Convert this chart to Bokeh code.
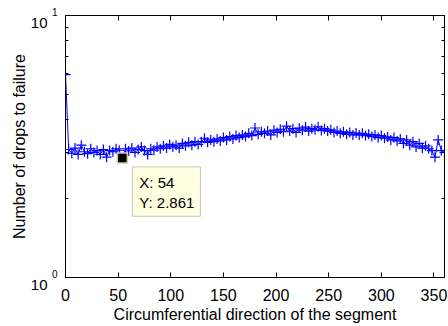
from bokeh.plotting import figure
from bokeh.models import (LogAxis, LinearAxis, FixedTicker, Range1d, Label,
                          ColumnDataSource)
from bokeh.embed import file_html
from bokeh.resources import INLINE

# ---- data ----
angle = list(range(0, 361, 3))
drops = [5.95, 3.08, 2.98, 3.12, 2.95, 3.20, 3.02, 2.97, 3.10, 3.00,
         3.05, 2.95, 3.08, 2.88, 3.05, 3.02, 3.10, 3.06, 2.861, 3.10,
         3.04, 3.12, 3.00, 3.08, 3.15, 3.05, 2.95, 3.10, 3.06, 3.15,
         3.10, 3.18, 3.12, 3.22, 3.15, 3.20, 3.12, 3.25, 3.18, 3.28,
         3.20, 3.30, 3.22, 3.30, 3.40, 3.28, 3.35, 3.30, 3.38, 3.32,
         3.42, 3.35, 3.45, 3.38, 3.48, 3.42, 3.50, 3.45, 3.55, 3.48,
         3.72, 3.52, 3.60, 3.55, 3.62, 3.50, 3.65, 3.58, 3.68, 3.60,
         3.78, 3.62, 3.70, 3.58, 3.72, 3.65, 3.75, 3.62, 3.70, 3.66,
         3.76, 3.64, 3.70, 3.62, 3.66, 3.58, 3.62, 3.55, 3.60, 3.52,
         3.58, 3.50, 3.56, 3.50, 3.55, 3.48, 3.52, 3.45, 3.50, 3.42,
         3.48, 3.40, 3.44, 3.35, 3.42, 3.32, 3.38, 3.25, 3.35, 3.20,
         3.30, 3.15, 3.25, 3.12, 3.18, 3.10, 3.05, 2.88, 3.35, 3.05,
         3.00]
x_ticks = [0, 50, 100, 150, 200, 250, 300, 350]
y_ticks = [1, 10]
y_tick_base = "10"
y_tick_exponents = ["0", "1"]
tip_index = 18
x_label = "Circumferential direction of the segment"
y_label = "Number of drops to failure"

FONT = "Liberation Sans"
FS = "16px"
NB = "\u00a0"

p = figure(width=448, height=326, output_backend="svg", toolbar_location=None,
           y_axis_type="log", x_range=Range1d(0, 360), y_range=Range1d(1, 10),
           min_border_left=65, min_border_right=4, min_border_top=15,
           min_border_bottom=49)
p.xgrid.visible = False
p.ygrid.visible = False
p.outline_line_color = "black"
p.outline_line_width = 1
p.background_fill_color = "white"
p.border_fill_color = "white"

src = ColumnDataSource(dict(x=angle, y=drops))
p.line("x", "y", source=src, line_color="#0000FF", line_width=1)
p.scatter("x", "y", source=src, marker="cross", size=10, line_color="#0000FF",
          line_width=1.2)

# datatip
tx, ty = angle[tip_index], drops[tip_index]
p.scatter([tx], [ty], marker="square", size=10, fill_color="black",
          line_color="#D2CCA4", line_width=1.5)
tip = Label(x=tx, y=ty, x_offset=10, y_offset=-9, anchor="top_left",
            text=f"X: {tx}\nY: {ty}", text_font=FONT, text_font_size="15px",
            text_color="black", background_fill_color="#FFFFE1",
            border_line_color="#C8C8B8", border_line_width=1,
            padding=(7, 6, 7, 5))
p.add_layout(tip)

def style(ax, show_labels=True):
    ax.axis_line_color = "black"
    ax.major_tick_in = 5
    ax.major_tick_out = 0
    ax.minor_tick_in = 3
    ax.minor_tick_out = 0
    ax.major_tick_line_color = "black"
    ax.minor_tick_line_color = "black"
    ax.major_label_text_font = FONT
    ax.major_label_text_font_size = FS
    ax.major_label_text_color = "black"
    ax.axis_label_text_font = FONT
    ax.axis_label_text_font_size = FS
    ax.axis_label_text_font_style = "normal"
    ax.axis_label_text_color = "black"
    if not show_labels:
        ax.major_label_text_font_size = "0px"
        ax.major_label_text_color = None
        ax.major_label_standoff = 0

xa = p.xaxis[0]
xa.ticker = FixedTicker(ticks=x_ticks)
style(xa)
xa.major_label_standoff = 11
xa.axis_label = x_label
xa.axis_label_standoff = 2

# inner left axis: frame edge line, ticks and superscript exponents
ya = p.yaxis[0]
ya.ticker = FixedTicker(ticks=y_ticks, minor_ticks=list(range(2, 10)))
style(ya)
ya.major_label_overrides = {v: e + "\n" + NB for v, e in zip(y_ticks, y_tick_exponents)}
ya.major_label_text_font_size = "10px"
ya.major_label_text_line_height = 0.5
ya.major_label_standoff = 8

# outer left axis: base "10" and the axis title
yb = LogAxis(ticker=FixedTicker(ticks=y_ticks, minor_ticks=[]))
style(yb)
yb.axis_line_color = None
yb.major_tick_line_color = None
yb.minor_tick_line_color = None
yb.major_label_overrides = {v: NB + "\n" + y_tick_base for v in y_ticks}
yb.major_label_text_font_size = "15px"
yb.major_label_text_line_height = 0.8
yb.major_label_standoff = 1
yb.axis_label = y_label
yb.axis_label_standoff = 0
p.add_layout(yb, "left")

top = LinearAxis(ticker=FixedTicker(ticks=x_ticks))
style(top, False)
p.add_layout(top, "above")

right = LogAxis(ticker=FixedTicker(ticks=y_ticks, minor_ticks=list(range(2, 10))))
style(right, False)
p.add_layout(right, "right")

open("out.html", "w").write(file_html(p, INLINE))
